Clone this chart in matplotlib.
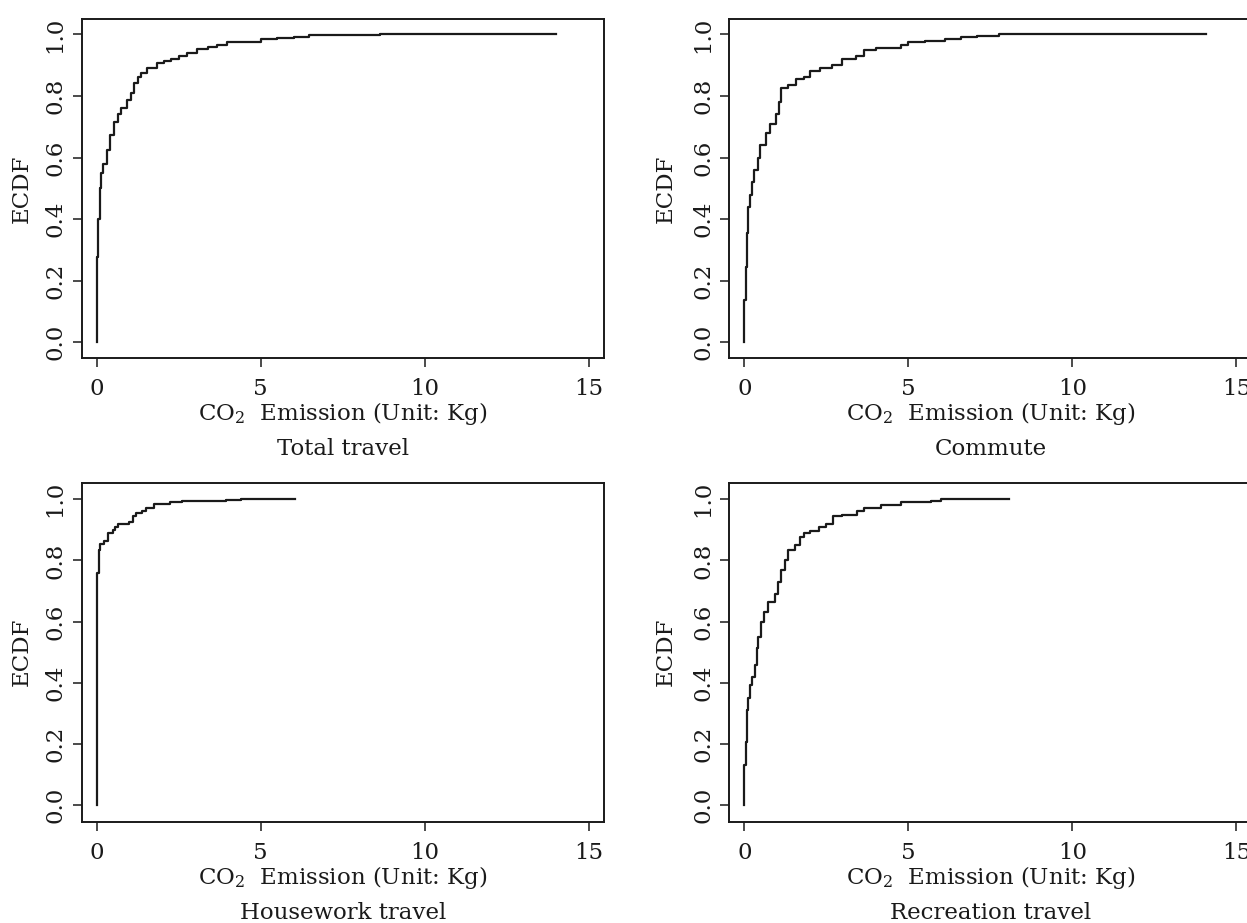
import matplotlib.pyplot as plt

plt.rcParams['font.family'] = ['DejaVu Serif']
plt.rcParams['mathtext.fontset'] = 'dejavuserif'

# ECDF knots: emission (kg) and cumulative share
total_x = [0.0, 0.0, 0.04, 0.09, 0.14, 0.20, 0.30, 0.40, 0.53, 0.66, 0.73, 0.93, 1.03,
           1.13, 1.25, 1.34, 1.54, 1.84, 2.05, 2.25, 2.50, 2.76, 3.06, 3.40, 3.67, 3.98,
           4.50, 5.00, 5.50, 6.00, 6.46, 8.64, 14.0]
total_y = [0.0, 0.278, 0.40, 0.50, 0.55, 0.58, 0.625, 0.673, 0.716, 0.74, 0.76, 0.787, 0.81,
           0.843, 0.86, 0.874, 0.89, 0.906, 0.912, 0.92, 0.93, 0.94, 0.952, 0.958, 0.965, 0.975,
           0.976, 0.984, 0.988, 0.993, 0.997, 1.0, 1.0]

commute_x = [0.0, 0.0, 0.04, 0.07, 0.12, 0.16, 0.22, 0.28, 0.40, 0.49, 0.65, 0.77, 0.96,
             1.06, 1.12, 1.33, 1.57, 1.82, 2.00, 2.31, 2.67, 2.98, 3.41, 3.66, 4.02, 4.76,
             5.00, 5.50, 6.11, 6.60, 7.09, 7.77, 14.06]
commute_y = [0.0, 0.138, 0.246, 0.355, 0.44, 0.48, 0.52, 0.56, 0.60, 0.64, 0.68, 0.71, 0.74,
             0.78, 0.826, 0.835, 0.855, 0.86, 0.88, 0.89, 0.90, 0.92, 0.93, 0.95, 0.955, 0.965,
             0.975, 0.98, 0.985, 0.99, 0.995, 1.0, 1.0]

house_x = [0.0, 0.0, 0.02, 0.06, 0.10, 0.21, 0.33, 0.48, 0.57, 0.66, 0.97, 1.09, 1.21,
           1.39, 1.51, 1.75, 2.23, 2.60, 3.08, 3.93, 4.41, 6.04]
house_y = [0.0, 0.567, 0.758, 0.834, 0.855, 0.865, 0.89, 0.90, 0.91, 0.92, 0.925, 0.945, 0.955,
           0.96, 0.97, 0.985, 0.99, 0.993, 0.995, 0.998, 1.0, 1.0]

recre_x = [0.0, 0.0, 0.04, 0.09, 0.12, 0.18, 0.24, 0.31, 0.37, 0.43, 0.51, 0.61, 0.73,
           0.92, 1.01, 1.12, 1.25, 1.34, 1.53, 1.71, 1.83, 2.01, 2.26, 2.50, 2.69, 2.99,
           3.42, 3.66, 4.15, 4.76, 5.68, 5.98, 8.06]
recre_y = [0.0, 0.131, 0.207, 0.31, 0.349, 0.393, 0.42, 0.458, 0.513, 0.551, 0.60, 0.63, 0.665,
           0.69, 0.731, 0.769, 0.80, 0.834, 0.85, 0.875, 0.89, 0.895, 0.91, 0.92, 0.945, 0.95,
           0.96, 0.97, 0.98, 0.99, 0.993, 1.0, 1.0]

titles = ["Total travel", "Commute", "Housework travel", "Recreation travel"]
xticks = [0, 5, 10, 15]
yticks = [0.0, 0.2, 0.4, 0.6, 0.8, 1.0]

panels = [(total_x, total_y), (commute_x, commute_y), (house_x, house_y), (recre_x, recre_y)]

fig = plt.figure(figsize=(12.47, 9.23), dpi=100)

W, H = 1247.0, 923.0
lefts = [81.7, 729.3]
rows = [(19.3, 357.7, (-0.05, 1.049)), (482.7, 821.7, (-0.054, 1.054))]
box_w = 522.2

ink = '#1a1a1a'

for i, (xs, ys) in enumerate(panels):
    r, c = divmod(i, 2)
    top, bot, ylim = rows[r]
    ax = fig.add_axes([lefts[c] / W, (H - bot) / H, box_w / W, (bot - top) / H])

    ax.step(xs, ys, where='post', color=ink, lw=1.6)

    ax.set_xlim(-0.46, 15.46)
    ax.set_ylim(*ylim)
    ax.set_xticks(xticks)
    ax.set_xticklabels([str(t) for t in xticks])
    ax.set_yticks(yticks)
    ax.set_yticklabels(["%.1f" % t for t in yticks])
    plt.setp(ax.get_yticklabels(), rotation=90, va='center')

    ax.tick_params(axis='both', direction='out', length=6.5, width=1.1,
                   colors=ink, labelsize=16.5)
    ax.tick_params(axis='x', pad=8)
    ax.tick_params(axis='y', pad=4.5)
    for s in ax.spines.values():
        s.set_linewidth(1.4)
        s.set_color(ink)

    ax.set_ylabel("ECDF", fontsize=16.5, va='center', color=ink)
    ax.yaxis.set_label_coords(-0.114 if c == 0 else -0.121, 0.5)

    ax.set_xlabel(r"CO$_2$  Emission (Unit: Kg)", fontsize=16.5, va='baseline', color=ink)
    ax.xaxis.set_label_coords(0.5, -0.185)

    ax.text(0.5, -0.287, titles[i], transform=ax.transAxes, ha='center',
            va='baseline', fontsize=16.5, color=ink)

fig.savefig("out.png", dpi=100)
